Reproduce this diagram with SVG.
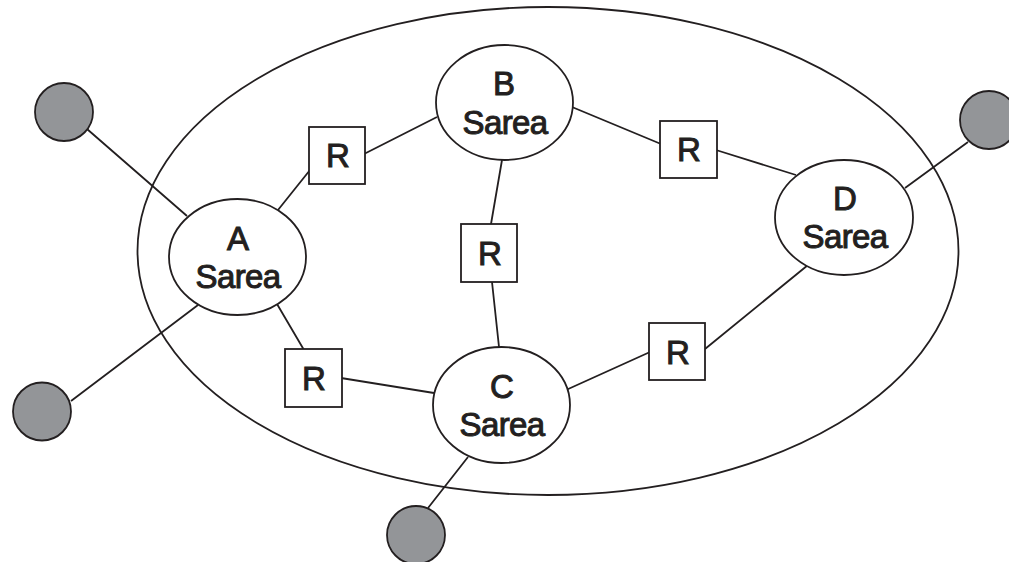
<svg xmlns="http://www.w3.org/2000/svg" width="1009" height="562" viewBox="0 0 1009 562">
<style>
.l{stroke:#231f20;stroke-width:1.8;fill:none}
.n{stroke:#231f20;stroke-width:1.8;fill:#fff}
.g{stroke:#231f20;stroke-width:1.8;fill:#939598}
text{font-family:"Liberation Sans",Arial,sans-serif;fill:#231f20;stroke:#231f20;stroke-width:1;text-anchor:middle;font-size:33px}
.s{font-size:33px;letter-spacing:-.6px}
</style>
<rect width="1009" height="562" fill="#fff"/>
<ellipse id="boundary" class="l" cx="548" cy="251" rx="410.500" ry="244"/>
<g id="connectors" class="l">
<path d="M87 129L187 216M198 305L71 401M278 210L310 170M364 154L437 117M572 107L661 144M716 150L796 175M905 188L968 142M502 160L491 224M492 282L499 347M277 304L304 350M341 378L434 393M566 390L650 352M705 349L808 265M468 457L428 508"/>
</g>
<g id="ext1"><circle class="g" cx="64" cy="112" r="29"/></g>
<g id="ext2"><circle class="g" cx="42" cy="411.500" r="29"/></g>
<g id="ext3"><circle class="g" cx="416" cy="535" r="29"/></g>
<g id="ext4"><circle class="g" cx="989" cy="120" r="29"/></g>
<g id="nodeA"><ellipse class="n" cx="237.500" cy="257" rx="68.500" ry="58"/><text x="238" y="250">A</text><text class="s" x="238" y="288">Sarea</text></g>
<g id="nodeB"><ellipse class="n" cx="504.500" cy="102.500" rx="68.500" ry="57.500"/><text x="504" y="95">B</text><text class="s" x="505" y="134">Sarea</text></g>
<g id="nodeC"><ellipse class="n" cx="501.500" cy="405" rx="68.500" ry="58"/><text x="502" y="398">C</text><text class="s" x="502" y="436">Sarea</text></g>
<g id="nodeD"><ellipse class="n" cx="844" cy="217.500" rx="69" ry="57.500"/><text x="845" y="210">D</text><text class="s" x="845" y="248">Sarea</text></g>
<g id="r1"><rect class="n" x="309" y="127" width="56" height="57"/><text x="338" y="167">R</text></g>
<g id="r2"><rect class="n" x="660" y="121" width="57" height="57"/><text x="689" y="161">R</text></g>
<g id="r3"><rect class="n" x="461" y="224" width="56" height="58"/><text x="490" y="265">R</text></g>
<g id="r4"><rect class="n" x="285" y="349" width="57" height="58"/><text x="314" y="390">R</text></g>
<g id="r5"><rect class="n" x="649" y="323" width="56" height="57"/><text x="678" y="364">R</text></g>
</svg>
